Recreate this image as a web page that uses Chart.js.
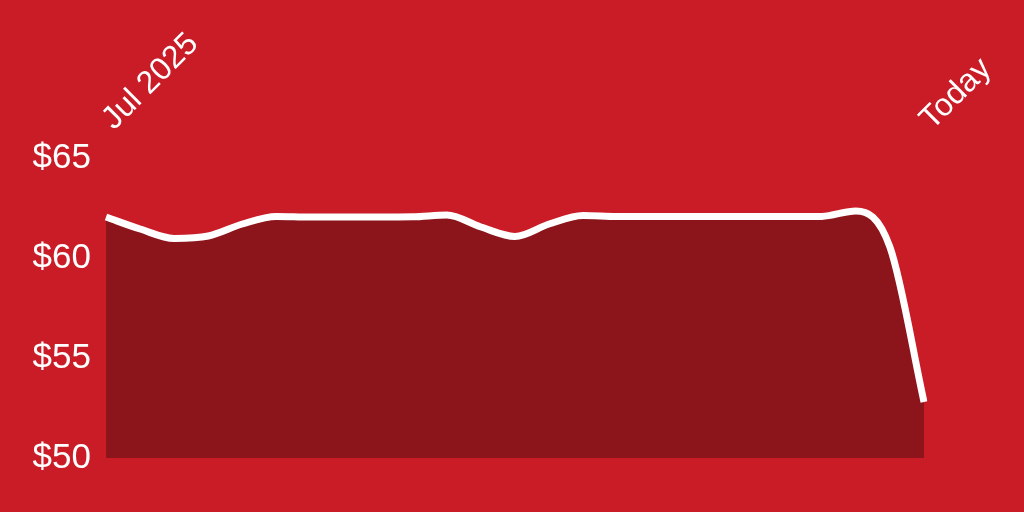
<!DOCTYPE html>
<html>
<head>
<meta charset="utf-8">
<script src="https://cdn.jsdelivr.net/npm/chart.js@4.4.1/dist/chart.umd.min.js"></script>
<style>
  html, body { margin: 0; padding: 0; background: #c91c27; }
  #wrap { width: 1024px; height: 512px; }
</style>
</head>
<body>
<div id="wrap"><canvas id="price"></canvas></div>
<script>
// price history from Jul 2025 to today, evenly spaced samples
const labels = ['Jul 2025', '', '', '', '', '', '', '', '', '', '', '', '',
                '', '', '', '', '', '', '', '', '', '', '', 'Today'];
const prices = [62.05, 61.45, 60.98, 61.1, 61.7, 62.08, 62.05, 62.05, 62.05, 62.06,
                62.15, 61.55, 61.08, 61.7, 62.12, 62.07, 62.07, 62.07, 62.07, 62.07,
                62.07, 62.08, 62.35, 60.55, 52.8];
const yTicks = [50, 55, 60, 65];

const FONT = '"Liberation Sans", Arial, Helvetica, sans-serif';

const ctx = document.getElementById('price').getContext('2d');

new Chart(ctx, {
    type: 'line',
    data: {
        labels: labels,
        datasets: [{
            data: prices,
            borderColor: '#ffffff',
            borderWidth: 7,
            backgroundColor: '#8b151b',
            fill: 'start',
            cubicInterpolationMode: 'monotone',
            pointRadius: 0,
            borderCapStyle: 'butt'
        }]
    },
    options: {
        responsive: true,
        maintainAspectRatio: false,
        animation: false,
        layout: { padding: { top: 0, right: 100, bottom: 54, left: 0 } },
        plugins: {
            legend: { display: false },
            tooltip: { enabled: false }
        },
        scales: {
            x: {
                position: 'top',
                grid: { display: false, drawTicks: false },
                border: { display: false },
                afterFit: (scale) => { scale.height = 158; },
                ticks: {
                    color: '#ffffff',
                    font: { family: FONT, size: 32 },
                    minRotation: 45,
                    maxRotation: 45,
                    autoSkip: false,
                    labelOffset: 29,
                    padding: 20
                }
            },
            y: {
                min: 50,
                max: 65,
                grid: { display: false, drawTicks: false },
                border: { display: false },
                afterFit: (scale) => { scale.width = 106; },
                afterBuildTicks: (scale) => {
                    scale.ticks = yTicks.map(v => ({ value: v }));
                },
                ticks: {
                    color: '#ffffff',
                    font: { family: FONT, size: 35 },
                    padding: 15,
                    callback: (v) => '$' + v
                }
            }
        }
    }
});
</script>
</body>
</html>
